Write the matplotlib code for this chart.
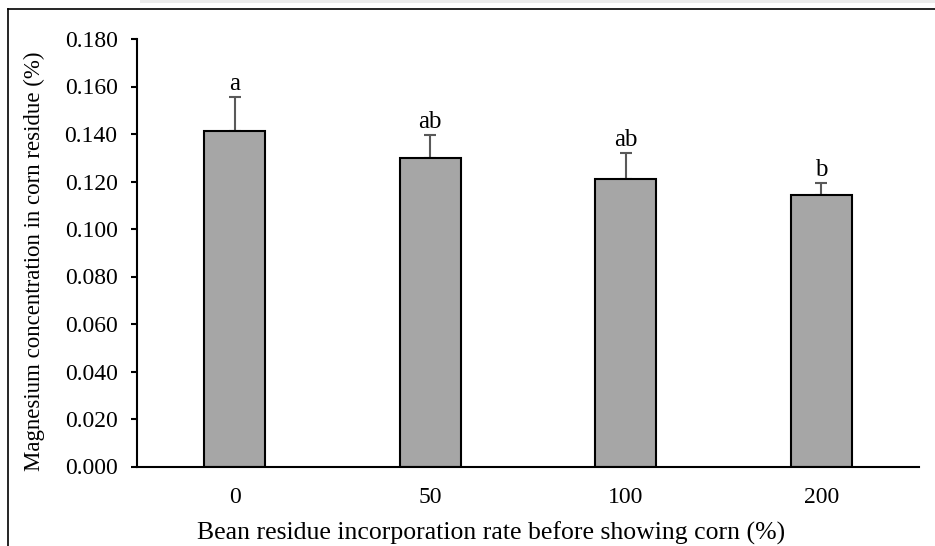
import numpy as np
import matplotlib.pyplot as plt
from matplotlib.lines import Line2D
from matplotlib.patches import Rectangle

plt.rcParams['font.family'] = ['Liberation Serif', 'DejaVu Serif']

# Data
rates = ['0', '50', '100', '200']
mg_conc = [0.1413, 0.1299, 0.1211, 0.1142]
mg_err = [0.0144, 0.0097, 0.0110, 0.0050]
letters = ['a', 'ab', 'ab', 'b']

fig = plt.figure(figsize=(9.35, 5.46), dpi=100)
ax = fig.add_axes([137/935, 1 - 466.5/546, (919 - 137)/935, (466.5 - 39)/546])

x = np.arange(len(rates))
ax.bar(x, mg_conc, width=0.31, color='#a6a6a6', edgecolor='black', linewidth=1.5, zorder=2)
ax.errorbar(x, mg_conc, yerr=[np.zeros(len(x)), mg_err], fmt='none',
            ecolor='#595959', elinewidth=1.5, capsize=4.5, capthick=1.5, zorder=1)

for xi, v, e, lab in zip(x, mg_conc, mg_err, letters):
    ax.annotate(lab, (xi, v + e), xytext=(0, 9.5), textcoords='offset points',
                ha='center', va='center', fontsize=18)

ax.set_xlim(-0.5, len(rates) - 0.5)
ax.set_ylim(0, 0.18)
yt = np.arange(0, 0.181, 0.02)
ax.set_yticks(yt)
ax.set_yticklabels([f'{t:.3f}' for t in yt])
ax.set_xticks(x)
ax.set_xticklabels(rates)

ax.spines['top'].set_visible(False)
ax.spines['right'].set_visible(False)
ax.spines['left'].set_linewidth(1.5)
ax.spines['bottom'].set_linewidth(1.5)
ax.tick_params(axis='y', direction='out', length=4, width=1.5, labelsize=17, pad=10)
ax.tick_params(axis='x', length=0, labelsize=17, pad=15)

ax.set_xlabel('Bean residue incorporation rate before showing corn (%)', fontsize=18.5, va='center')
ax.xaxis.set_label_coords((491 - 137)/782, -(533 - 466.5)/427.5)
ax.set_ylabel('Magnesium concentration in corn residue (%)', fontsize=16.5, va='center')
ax.yaxis.set_label_coords((34 - 137)/782, (466.5 - 261)/427.5)

# frame lines around the figure (left and top) and light strip at the very top
fig.add_artist(Rectangle((140/935, 1 - 3/546), 1, 3/546, transform=fig.transFigure,
                         color='#ececec', lw=0))
fig.add_artist(Line2D([8/935, 8/935], [0, 1 - 8.5/546], transform=fig.transFigure, color='black', lw=1.2))
fig.add_artist(Line2D([8/935, 1], [1 - 8.5/546, 1 - 8.5/546], transform=fig.transFigure, color='black', lw=1.2))

fig.savefig('out.png', dpi=100)
